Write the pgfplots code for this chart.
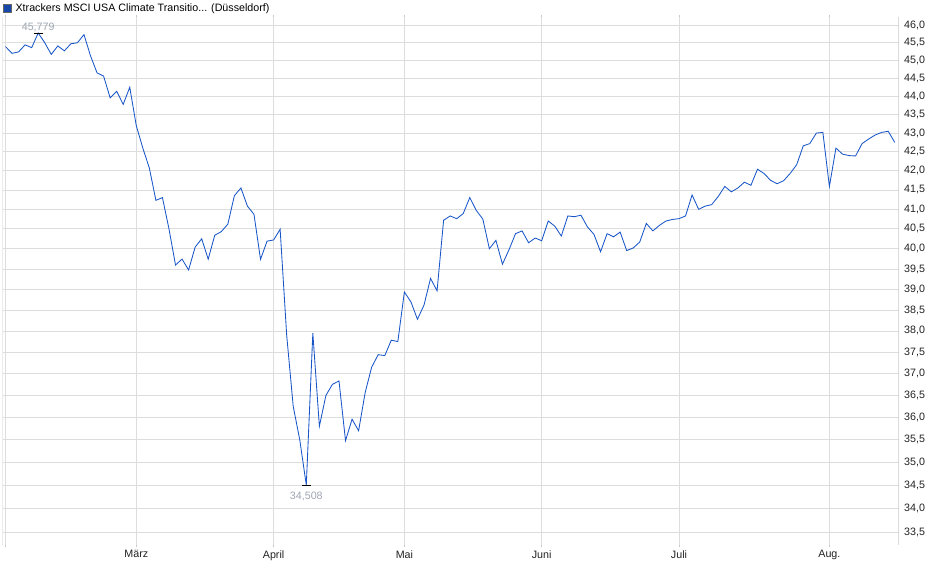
\documentclass[border=0pt]{standalone}
\usepackage{pgfplots}
\pgfplotsset{compat=1.18}
\usepackage{fontspec}
\setmainfont{Liberation Sans}
\definecolor{lineblue}{RGB}{24,86,200}
\definecolor{gridgray}{RGB}{221,221,221}
\definecolor{bordergray}{RGB}{200,200,200}
\definecolor{annogray}{RGB}{158,166,178}
\definecolor{legblue}{RGB}{22,72,170}
\definecolor{labelgray}{RGB}{34,34,34}

\begin{document}
\begin{tikzpicture}[font=\fontsize{10.7}{12.5}\selectfont]
\useasboundingbox (0,0) rectangle (940pt,579pt);
\begin{axis}[
  at={(2.7pt,34pt)}, anchor=south west,
  scale only axis, width=896pt, height=528pt,
  xmin=-0.43, xmax=136.6,
  ymode=log, ymin=33.24, ymax=46.24,
  axis line style={draw=none},
  xtick={0,20,41,61,82,103,126},
  xticklabels={,März,April,Mai,Juni,Juli,Aug.},
  ytick={33.5,34,34.5,35,35.5,36,36.5,37,37.5,38,38.5,39,39.5,40,40.5,41,41.5,42,42.5,43,43.5,44,44.5,45,45.5,46},
  yticklabels={{33,5},{34,0},{34,5},{35,0},{35,5},{36,0},{36,5},{37,0},{37,5},{38,0},{38,5},{39,0},{39,5},{40,0},{40,5},{41,0},{41,5},{42,0},{42,5},{43,0},{43,5},{44,0},{44,5},{45,0},{45,5},{46,0}},
  yticklabel pos=right,
  y tick label style={anchor=west, text=labelgray},
  x tick label style={text=labelgray},
  ytick style={draw=none},
  xtick style={draw=bordergray, line width=0.8pt},
  tick align=outside,
  major tick length=2pt,
  minor tick num=0,
  grid=major,
  major grid style={draw=gridgray, line width=0.8pt},
  legend style={at={(rel axis cs:0,1)}, anchor=south west, draw=none, fill=none,
    inner sep=0pt, outer sep=0pt, yshift=2pt, font=\fontsize{10.7}{12.5}\selectfont,
    /tikz/every odd column/.style={column sep=2.5pt}},
  legend cell align=left,
]
\draw[bordergray, line width=0.8pt] (rel axis cs:0,1) -- (rel axis cs:0,0) -- (rel axis cs:1,0) -- (rel axis cs:1,1);
\addplot[lineblue, line width=0.85pt, mark=none,
  legend image code/.code={\draw[black!60, fill=legblue, line width=0.6pt] (0pt,-3.9pt) rectangle (7.8pt,3.9pt);}]
coordinates {
(0,45.39) (1,45.20) (2,45.24) (3,45.44) (4,45.36) (5,45.779) (6,45.50) (7,45.17) (8,45.41) (9,45.27)
(10,45.47) (11,45.50) (12,45.73) (13,45.13) (14,44.65) (15,44.56) (16,43.96) (17,44.14) (18,43.78) (19,44.25)
(20,43.20) (21,42.60) (22,42.07) (23,41.23) (24,41.30) (25,40.50) (26,39.60) (27,39.75) (28,39.48) (29,40.04)
(30,40.25) (31,39.75) (32,40.34) (33,40.43) (34,40.62) (35,41.35) (36,41.55) (37,41.08) (38,40.87) (39,39.74)
(40,40.19) (41,40.22) (42,40.49) (43,37.90) (44,36.25) (45,35.50) (46,34.508) (47,37.95) (48,35.80) (49,36.50)
(50,36.75) (51,36.83) (52,35.48) (53,35.96) (54,35.70) (55,36.56) (56,37.15) (57,37.44) (58,37.42) (59,37.78)
(60,37.75) (61,38.94) (62,38.70) (63,38.28) (64,38.62) (65,39.27) (66,38.97) (67,40.72) (68,40.83) (69,40.76)
(70,40.89) (71,41.30) (72,40.97) (73,40.75) (74,40.00) (75,40.21) (76,39.62) (77,39.98) (78,40.38) (79,40.45)
(80,40.15) (81,40.27) (82,40.20) (83,40.70) (84,40.57) (85,40.32) (86,40.83) (87,40.81) (88,40.85) (89,40.55)
(90,40.36) (91,39.93) (92,40.38) (93,40.30) (94,40.42) (95,39.96) (96,40.02) (97,40.17) (98,40.64) (99,40.45)
(100,40.59) (101,40.70) (102,40.74) (103,40.76) (104,40.83) (105,41.37) (106,41.00) (107,41.08) (108,41.12) (109,41.33)
(110,41.59) (111,41.45) (112,41.55) (113,41.70) (114,41.62) (115,42.04) (116,41.93) (117,41.75) (118,41.66) (119,41.74)
(120,41.93) (121,42.16) (122,42.66) (123,42.72) (124,43.00) (125,43.02) (126,41.59) (127,42.60) (128,42.44) (129,42.40)
(130,42.39) (131,42.72) (132,42.84) (133,42.95) (134,43.02) (135,43.05) (136,42.75)
};
\addlegendentry{Xtrackers MSCI USA Climate Transitio... (Düsseldorf)}
\addplot[only marks, mark=-, mark size=4.5pt, mark options={black, line width=0.8pt}, forget plot]
  coordinates {(5,45.779)} node[above, text=annogray, yshift=-2.5pt] {45,779};
\addplot[only marks, mark=-, mark size=4.5pt, mark options={black, line width=0.8pt}, forget plot]
  coordinates {(46,34.508)} node[below, text=annogray, yshift=-3.5pt] {34,508};
\end{axis}
\end{tikzpicture}
\end{document}
